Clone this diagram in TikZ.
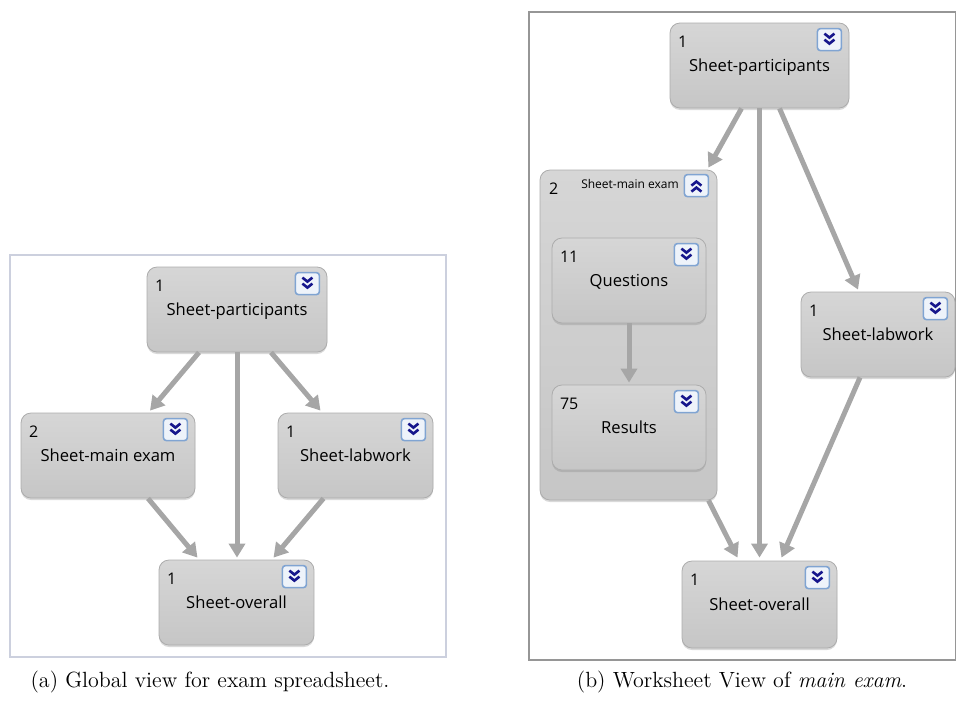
\documentclass[tikz,border=0pt]{standalone}
\usepackage{fontspec}
\newfontfamily\uifont{Open Sans}
\usetikzlibrary{arrows.meta,shadows}

\definecolor{boxgray}{RGB}{198,198,198}
\definecolor{boxtop}{RGB}{214,214,214}
\definecolor{boxedge}{RGB}{172,172,172}
\definecolor{arrowgray}{RGB}{166,166,166}
\definecolor{btnfill}{RGB}{238,243,250}
\definecolor{btnedge}{RGB}{128,164,210}
\definecolor{chevron}{RGB}{22,22,140}
\definecolor{frameA}{RGB}{204,208,222}
\definecolor{frameB}{RGB}{150,150,150}

\tikzset{
  sheet/.style={rectangle, rounded corners=5pt, draw=boxedge, line width=0.4pt,
    top color=boxtop, bottom color=boxgray,
    drop shadow={shadow xshift=0pt, shadow yshift=-1pt, opacity=0.3},
    font=\uifont\fontsize{8.3}{10}\selectfont, inner sep=0pt, text depth=0pt},
  sheetnum/.style={anchor=north west, inner sep=0pt, font=\uifont\fontsize{8}{10}\selectfont},
  grouptitle/.style={inner sep=0pt, font=\uifont\fontsize{6}{7}\selectfont},
  dep/.style={draw=arrowgray, line width=2.5pt, -{Triangle[width=8pt,length=7pt]}},
  caption/.style={inner sep=0pt, font=\fontsize{11}{13}\selectfont},
  expandbtn/.pic={
    \draw[btnedge, fill=btnfill, rounded corners=1.5pt, line width=0.8pt] (-12,-11) rectangle (12,11);
    \draw[chevron, line width=1.3pt] (-5,-6) -- (0,-2) -- (5,-6) (-5,0) -- (0,4) -- (5,0);
  },
  collapsebtn/.pic={
    \draw[btnedge, fill=btnfill, rounded corners=1.5pt, line width=0.8pt] (-12,-11) rectangle (12,11);
    \draw[chevron, line width=1.3pt] (-5,6) -- (0,2) -- (5,6) (-5,0) -- (0,-4) -- (5,0);
  }
}

% name, centre, width, height (px), number, label
\newcommand{\sheetbox}[6]{%
  \node[sheet, minimum width=#3*0.5pt, minimum height=#4*0.5pt] (#1) at #2 {#6};
  \node[sheetnum] (#1-num) at ([shift={(8,13)}]#1.north west) {#5};
  \pic at ([shift={(-20,17)}]#1.north east) {expandbtn};
}

\begin{document}
\begin{tikzpicture}[x=0.5pt, y=-0.5pt]
  \useasboundingbox (0,0) rectangle (956,702);

  % (a) global view
  \draw[frameA, line width=0.6pt] (10,255) rectangle (446,657);
  \sheetbox{pa}{(237,309.5)}{180}{85}{1}{Sheet-participants}
  \sheetbox{mea}{(108,455.5)}{174}{85}{2}{Sheet-main exam}
  \sheetbox{laba}{(355.5,455.5)}{155}{85}{1}{Sheet-labwork}
  \sheetbox{ova}{(236.5,602.5)}{155}{85}{1}{Sheet-overall}

  \draw[dep] ([shift={(-38,0)}]pa.south) -- ([shift={(42,-2)}]mea.north);
  \draw[dep] (pa.south) -- ([shift={(0,-2)}]pa.south |- ova.north);
  \draw[dep] ([shift={(34,0)}]pa.south) -- ([shift={(-35,-2)}]laba.north);
  \draw[dep] ([shift={(40,0)}]mea.south) -- ([shift={(-39,-2)}]ova.north);
  \draw[dep] ([shift={(-32,0)}]laba.south) -- ([shift={(37,-2)}]ova.north);

  % (b) worksheet view
  \draw[frameB, line width=0.6pt] (529,12) rectangle (955.5,660);
  \sheetbox{pb}{(759.5,65.5)}{179}{85}{1}{Sheet-participants}
  \node[sheet, minimum width=177*0.5pt, minimum height=330*0.5pt] (grp) at (628.5,335) {};
  \node[sheetnum] (grp-num) at ([shift={(9,13)}]grp.north west) {2};
  \node[grouptitle] (grp-title) at ([shift={(1.5,14)}]grp.north) {Sheet-main exam};
  \pic at ([shift={(-21,16)}]grp.north east) {collapsebtn};
  \sheetbox{qb}{(629,280.5)}{154}{85}{11}{Questions}
  \sheetbox{rb}{(629,427.5)}{154}{85}{75}{Results}
  \sheetbox{labb}{(878,334.5)}{154}{85}{1}{Sheet-labwork}
  \sheetbox{ovb}{(759.5,604.5)}{155}{87}{1}{Sheet-overall}

  \draw[dep] ([shift={(-18,0)}]pb.south) -- ([shift={(-9,-2)}]grp.north east);
  \draw[dep] (pb.south) -- ([shift={(0,-3)}]pb.south |- ovb.north);
  \draw[dep] ([shift={(20,0)}]pb.south) -- ([shift={(-20,-2)}]labb.north);
  \draw[dep] (qb.south) -- ([shift={(0,-2)}]rb.north);
  \draw[dep] ([shift={(80,0)}]grp.south) -- ([shift={(-22,-3)}]ovb.north);
  \draw[dep] ([shift={(-18,0)}]labb.south) -- ([shift={(22,-3)}]ovb.north);

  \node[caption] (capa) at (210,682) {(a) Global view for exam spreadsheet.};
  \node[caption] (capb) at (742,682) {(b) Worksheet View of \emph{main exam}.};
\end{tikzpicture}
\end{document}
